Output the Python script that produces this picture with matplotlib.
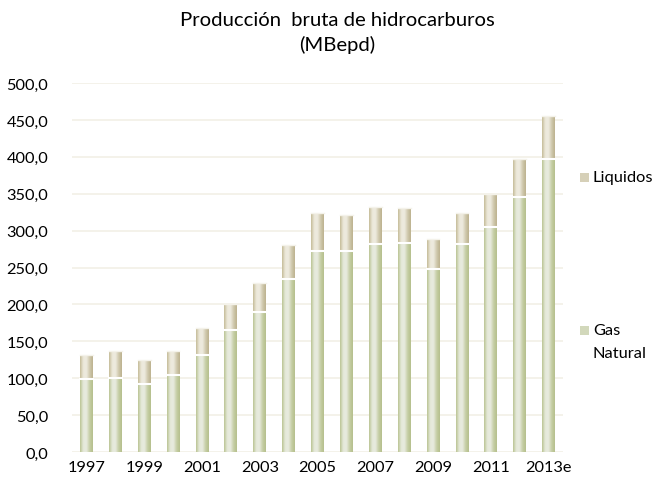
import matplotlib
matplotlib.use("Agg")
import matplotlib.pyplot as plt
import numpy as np
from matplotlib.colors import LinearSegmentedColormap
from matplotlib.patches import Rectangle
from matplotlib.ticker import FuncFormatter, MultipleLocator

plt.rcParams['font.family'] = ['Lato', 'DejaVu Sans']

years = ['1997', '1998', '1999', '2000', '2001', '2002', '2003', '2004', '2005',
         '2006', '2007', '2008', '2009', '2010', '2011', '2012', '2013e']
gas_natural = [98.6, 100.0, 92.7, 104.5, 131.8, 165.5, 190.0, 234.5, 272.7,
               272.7, 282.3, 283.6, 248.6, 282.3, 305.5, 345.9, 396.4]
liquidos = [32.3, 36.4, 31.4, 31.9, 35.9, 35.4, 39.1, 46.4, 50.9,
            47.8, 49.1, 46.9, 40.0, 41.8, 43.6, 50.9, 59.1]
tick_labels = ['1997', '', '1999', '', '2001', '', '2003', '', '2005', '',
               '2007', '', '2009', '', '2011', '', '2013e']

fig = plt.figure(figsize=(6.57, 4.81), dpi=100)
ax = fig.add_axes([72/657, 1 - 453/481, (563-72)/657, (453-84)/481])

x = np.arange(len(years))
width = 0.44

gas_cmap = LinearSegmentedColormap.from_list('gas', ['#b9c392', '#e5e9da', '#e8ebdf', '#c6cea5', '#b5bf8c'])
liq_cmap = LinearSegmentedColormap.from_list('liq', ['#c4bb97', '#ece8da', '#eeebe0', '#d0c9ad', '#bcb28e'])
grad = np.linspace(0, 1, 64).reshape(1, -1)

def grad_bars(bars, cmap):
    for b in bars:
        x0, y0 = b.get_x(), b.get_y()
        w, h = b.get_width(), b.get_height()
        im = ax.imshow(grad, cmap=cmap, aspect='auto', extent=[x0, x0 + w, y0, y0 + h],
                       zorder=2, interpolation='bicubic')
        im.set_clip_path(b)

b1 = ax.bar(x, gas_natural, width, color='#d5dabe', edgecolor='none', zorder=2, label='Gas Natural')
b2 = ax.bar(x, liquidos, width, bottom=gas_natural, color='#dcd6c0', edgecolor='none', zorder=2, label='Liquidos')
grad_bars(b1, gas_cmap)
grad_bars(b2, liq_cmap)
for xi, g, l in zip(x, gas_natural, liquidos):
    ax.plot([xi - width/2, xi + width/2], [g, g], color='white', lw=1.5, zorder=3)
    ax.plot([xi - width/2, xi + width/2], [g + l, g + l], color='#f4f2ea', lw=1.0, zorder=3)

ax.set_xlim(-0.5, len(years) - 0.5)
ax.set_ylim(0, 500)
ax.yaxis.set_major_locator(MultipleLocator(50))
ax.yaxis.set_major_formatter(FuncFormatter(lambda v, p: f"{v:.1f}".replace('.', ',')))
ax.set_xticks(x)
ax.set_xticklabels(tick_labels)
ax.tick_params(axis='both', length=0, labelsize=11.8, colors='black')
ax.tick_params(axis='y', pad=17)
ax.tick_params(axis='x', pad=6)
ax.grid(axis='y', color='#f2f0e6', lw=1.2, zorder=0)
ax.set_axisbelow(True)
for s in ax.spines.values():
    s.set_visible(False)

fig.text(337/657, 1 - 20/481, 'Producción  bruta de hidrocarburos', ha='center', va='center', fontsize=14.6)
fig.text(337/657, 1 - 45/481, '(MBepd)', ha='center', va='center', fontsize=14.6)

# legend
legend_color = ['#d6d0b8', '#d2d8bb']
legend_text = ['Liquidos', 'Gas']
legend_y = [178, 331]
for ly, color, label in zip(legend_y, legend_color, legend_text):
    fig.patches.append(Rectangle((580/657, 1 - (ly + 4.5)/481), 9/657, 9/481, transform=fig.transFigure,
                                 facecolor=color, edgecolor='none'))
    fig.text(593/657, 1 - ly/481, label, ha='left', va='center', fontsize=11.8)
fig.text(593/657, 1 - 354/481, 'Natural', ha='left', va='center', fontsize=11.8)

fig.savefig('out.png', dpi=100)
